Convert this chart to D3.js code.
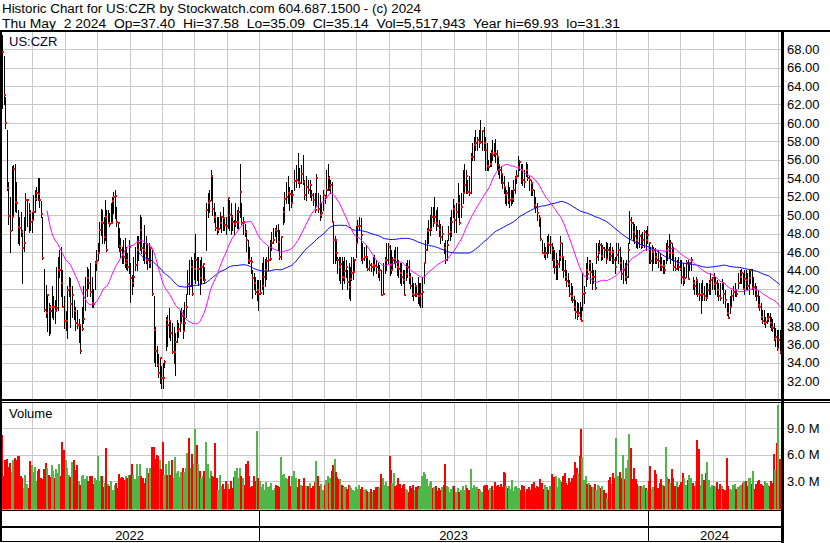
<!DOCTYPE html>
<html><head><meta charset="utf-8">
<script src="https://cdn.jsdelivr.net/npm/d3@7/dist/d3.min.js"></script>
<style>
html,body{margin:0;padding:0;background:#fff;}
svg{display:block;font-family:"Liberation Sans",Arial,Helvetica,sans-serif;}
</style></head><body>
<svg id="chart" width="830" height="543"></svg>
<script>
// ---------------- data ----------------
const headerLine1 = "Historic Chart for US:CZR by Stockwatch.com 604.687.1500 - (c) 2024";
const headerLine2 = "Thu May  2 2024  Op=37.40  Hi=37.58  Lo=35.09  Cl=35.14  Vol=5,517,943  Year hi=69.93  lo=31.31";
const symbol = "US:CZR";
const volumeTitle = "Volume";

// months shown (May 2022 .. May 2024), trading days per month, bars drawn per month
const months = ["2022-05","2022-06","2022-07","2022-08","2022-09","2022-10","2022-11","2022-12",
  "2023-01","2023-02","2023-03","2023-04","2023-05","2023-06","2023-07","2023-08","2023-09","2023-10","2023-11","2023-12",
  "2024-01","2024-02","2024-03","2024-04","2024-05"];
const tradingDays  = [21,21,20,23,21,21,21,21, 20,19,23,19,22,21,20,23,20,22,21,20, 21,20,20,22,22];
const barsPerMonth = [20,21,20,23,21,21,21,21, 20,19,23,19,22,21,20,23,20,22,21,20, 21,20,20,22,2];
const years = ["2022","2023","2024"];

const priceTicks = [32,34,36,38,40,42,44,46,48,50,52,54,56,58,60,62,64,66,68];
const volumeTicks = [3,6,9];          // millions
const prevClose = 69.6;                // close before first bar shown

const highs = [
 69.5,67.3,62.8,59.2,53.6,52.0,55.3,55.4,55.5,53.6,50.6,49.8,50.4,48.4,49.8,52.4,51.6,51.3,50.6,50.4,
 52.2,52.7,53.1,54.0,54.0,51.5,49.8,44.2,42.4,41.5,40.5,40.3,42.3,41.2,40.8,44.4,45.5,46.2,46.6,44.1,41.2,
 39.6,42.3,43.3,43.2,42.3,40.8,40.0,39.7,38.7,38.2,40.0,42.3,43.3,44.4,44.2,44.8,43.3,42.0,45.0,46.2,
 47.0,49.3,50.7,50.6,49.8,51.6,50.6,50.6,50.2,51.3,52.0,52.5,52.7,50.9,49.3,48.6,47.5,46.6,47.3,47.5,46.6,45.9,47.3,
 44.8,43.5,45.5,46.6,47.7,47.7,50.0,49.8,47.0,48.9,47.7,47.0,47.0,46.6,46.2,41.2,37.9,35.8,34.9,34.6,33.6,
 34.0,34.3,39.0,39.2,39.9,38.6,38.3,37.9,37.2,38.6,38.3,39.6,39.9,39.7,40.6,41.5,44.1,45.1,45.5,45.1,45.9,
 48.0,45.5,45.5,45.1,45.5,44.8,44.4,51.3,52.4,52.7,54.9,54.2,51.3,50.4,49.8,49.8,50.4,49.8,50.9,49.8,49.8,
 52.0,51.6,51.3,50.0,49.5,51.3,50.6,50.9,55.5,51.3,49.8,49.1,48.4,47.3,46.6,45.5,44.1,43.7,43.3,43.0,43.0,
 43.0,44.8,45.5,45.3,45.5,46.6,47.3,48.2,48.6,48.6,48.9,49.1,48.4,47.7,50.9,52.5,53.6,54.2,53.1,52.7,
 52.7,54.9,55.4,56.7,55.1,55.4,56.5,53.8,54.2,53.8,53.8,52.7,52.4,52.4,54.5,52.4,52.2,51.3,52.7,
 52.2,54.9,55.6,54.2,53.8,53.6,49.3,47.7,47.3,45.5,45.5,45.5,45.5,45.0,45.5,45.1,44.1,44.8,44.4,45.5,45.5,45.3,48.8,
 49.5,49.8,49.7,47.0,46.6,46.8,45.5,45.1,44.8,45.5,45.7,45.1,44.8,44.6,44.1,44.8,45.5,47.0,47.0,
 46.8,46.2,45.5,46.2,46.6,46.6,45.1,44.8,44.8,44.1,44.1,44.8,45.1,45.1,43.7,43.3,42.6,42.6,42.3,43.3,42.6,42.6,
 43.3,44.8,47.3,48.6,49.5,50.0,50.9,50.9,52.0,50.6,50.9,49.5,49.1,48.8,47.0,47.3,47.3,48.8,49.8,50.6,51.8,
 51.1,51.3,53.5,52.2,52.4,54.9,55.6,54.9,53.8,54.2,56.7,57.8,58.5,59.2,58.5,59.2,60.3,59.2,59.6,58.5,
 57.8,56.0,56.7,57.1,58.1,57.8,58.3,57.1,56.4,55.6,55.3,54.5,54.2,53.1,52.7,53.6,53.1,52.7,52.7,53.8,54.2,54.9,56.4,
 56.0,55.6,55.6,54.9,55.8,55.6,54.2,53.8,53.5,52.7,52.0,51.3,50.0,49.8,47.3,47.0,46.6,47.7,48.0,47.7,
 47.0,46.6,46.2,45.9,45.1,46.2,47.7,47.0,45.5,45.1,44.1,43.7,43.0,42.6,42.3,41.2,40.8,40.6,40.5,40.6,40.0,43.7,
 42.3,44.8,45.5,45.1,45.1,44.8,44.1,44.1,47.0,47.0,47.3,47.0,46.8,46.6,47.1,47.0,46.6,47.0,46.6,46.2,45.5,
 47.0,47.0,46.6,45.5,45.1,44.8,45.1,47.0,50.5,49.8,49.3,49.1,48.8,48.4,48.4,48.0,48.2,48.4,48.4,48.8,
 47.1,46.6,46.8,46.6,46.4,45.9,46.2,45.9,45.5,45.1,45.1,47.0,47.3,48.0,47.3,47.0,46.6,45.5,45.1,45.5,45.1,
 45.1,44.8,44.4,45.1,45.1,44.8,45.5,43.3,43.0,43.3,43.0,42.6,42.6,43.0,42.3,42.6,42.6,43.0,43.7,43.3,
 43.7,43.3,43.0,42.6,42.6,43.1,42.6,41.9,40.5,40.5,41.2,41.9,42.3,42.6,41.9,43.7,44.1,44.2,43.7,44.1,
 44.1,43.7,44.1,44.2,44.2,43.3,42.6,42.3,41.9,41.2,40.5,39.7,39.7,39.0,39.4,39.4,39.4,39.0,38.7,38.3,37.8,37.6,
 37.6,37.58];

const lows = [
 61.6,62.0,59.4,52.7,49.1,46.0,48.4,50.0,50.5,50.3,47.0,46.8,47.7,42.6,46.1,48.4,48.8,48.2,48.4,48.2,
 49.7,50.4,51.6,51.6,50.9,49.8,45.2,39.6,39.0,37.4,37.0,37.2,39.0,38.7,38.3,39.7,39.7,43.3,41.2,40.0,37.8,
 37.6,36.7,41.2,37.9,39.0,38.7,37.6,37.8,36.3,35.1,37.6,38.3,39.7,41.2,42.1,41.2,40.0,40.0,42.0,44.1,
 45.1,46.1,47.9,47.0,47.0,47.3,46.1,49.2,48.8,49.2,49.3,50.2,49.7,48.8,46.6,46.1,45.5,44.8,44.8,44.4,44.2,44.1,43.7,
 40.6,41.5,42.3,44.1,44.1,45.1,46.2,45.9,45.1,44.8,44.8,44.2,44.4,44.4,41.4,34.1,33.6,33.6,32.5,31.8,31.3,
 31.3,33.5,35.4,35.8,36.8,36.5,35.1,34.0,32.7,36.3,36.8,37.4,38.5,36.7,37.6,39.0,41.5,41.5,42.3,41.4,43.1,
 42.6,43.0,42.4,41.5,42.6,43.0,42.6,46.2,49.8,50.4,51.6,50.0,49.3,48.4,48.0,48.2,48.6,48.2,48.4,48.4,48.0,
 48.6,48.4,48.0,48.4,48.0,48.8,48.6,48.6,49.8,49.0,48.0,47.7,46.1,44.8,44.8,43.7,41.0,42.0,41.5,40.8,39.7,
 41.5,42.0,41.5,42.3,43.1,44.1,45.1,46.2,47.0,47.7,47.1,46.2,45.3,45.3,49.1,49.3,51.3,51.3,50.6,50.9,
 51.3,52.7,53.1,53.5,53.1,53.5,53.4,51.8,51.6,52.4,52.0,51.6,51.1,50.4,51.1,50.4,49.5,49.8,50.6,
 51.3,52.0,52.7,52.7,52.4,49.3,44.8,44.8,45.1,43.7,43.0,42.6,42.0,43.0,42.6,43.3,42.0,41.0,40.8,43.0,43.1,44.1,45.5,
 47.0,48.4,45.1,44.8,45.1,44.4,44.1,44.1,43.9,43.5,44.1,43.7,43.3,43.0,41.4,41.5,43.7,44.1,44.8,
 43.5,43.7,44.1,44.8,44.4,43.5,43.3,42.6,42.4,42.6,41.4,43.0,43.3,42.6,42.1,41.2,40.8,41.2,41.2,40.5,40.3,40.0,
 40.0,42.6,44.8,46.2,47.0,47.9,48.4,48.8,49.2,48.4,48.8,47.7,47.0,47.3,45.9,44.8,45.1,47.3,47.3,47.7,49.8,
 48.2,48.2,49.8,49.0,49.8,51.3,52.4,52.4,52.4,52.2,52.4,56.0,56.0,57.1,57.1,57.4,57.8,57.1,57.1,54.9,
 54.9,54.9,55.3,55.3,56.0,56.4,55.8,54.9,54.5,54.0,53.5,52.9,52.4,51.3,51.1,51.3,50.9,51.1,51.3,51.5,52.4,53.5,54.2,
 54.9,53.5,53.3,53.1,54.2,53.8,52.7,52.2,52.2,50.9,50.4,49.5,48.8,47.3,45.9,45.5,45.3,45.5,45.9,45.9,
 45.1,44.4,43.7,43.1,43.1,44.4,45.1,44.1,43.3,43.0,42.3,42.3,41.2,40.8,40.6,39.7,38.9,38.7,39.1,38.7,38.5,39.7,
 40.5,42.3,43.1,44.1,42.6,42.0,42.6,42.0,44.8,45.1,45.9,45.1,45.3,45.5,44.8,45.5,45.1,45.1,44.8,44.8,43.7,
 45.1,44.8,44.1,43.1,42.6,43.0,42.6,43.3,47.0,47.5,47.3,47.0,46.6,46.4,46.6,46.4,46.6,46.6,46.2,47.0,
 44.8,44.8,44.1,44.8,44.8,44.8,44.4,44.1,44.1,43.7,43.7,44.8,45.1,45.5,44.8,45.1,44.1,44.1,44.2,44.1,44.1,
 42.6,42.4,42.6,43.3,43.1,44.1,44.1,42.0,41.5,41.5,41.2,40.8,39.4,40.8,40.8,40.8,41.2,41.5,41.5,42.0,
 42.0,41.5,41.2,40.8,40.8,42.0,40.5,40.0,39.2,38.9,39.4,40.0,40.8,41.2,41.2,42.1,42.6,42.6,42.0,41.5,
 42.0,42.0,41.5,42.6,42.0,41.5,41.2,40.8,40.0,39.7,38.7,38.3,38.2,37.9,38.3,38.5,37.9,37.6,37.4,36.5,35.8,35.4,
 35.6,35.09];

const closes = [
 67.7,63.0,60.0,53.0,49.9,48.3,49.8,55.0,51.4,51.3,48.7,48.6,48.2,46.4,47.0,51.6,51.6,50.2,49.3,49.5,
 50.4,51.8,52.4,52.3,51.6,50.1,45.4,39.7,39.4,41.4,40.0,39.6,40.0,40.0,39.6,39.9,44.1,44.1,42.6,40.1,38.5,
 38.5,41.9,42.1,40.4,41.4,39.6,38.3,38.1,38.1,35.3,37.7,38.7,41.9,43.2,42.6,41.7,40.5,40.4,44.8,45.0,
 45.9,48.4,49.3,49.2,47.6,49.8,46.2,49.2,49.1,49.2,51.5,52.0,52.1,49.3,49.2,46.7,46.2,45.7,45.5,44.8,45.1,44.4,46.5,
 43.2,42.6,43.3,44.6,46.2,47.0,48.4,46.4,46.2,45.9,45.1,45.1,44.8,46.4,41.5,37.6,35.3,33.8,32.9,34.5,32.4,
 32.3,34.1,38.6,38.1,38.5,37.2,35.2,35.2,36.3,37.4,37.7,38.3,39.1,37.4,38.3,40.0,42.5,42.3,44.4,41.5,44.2,
 45.1,44.2,44.2,43.2,44.4,44.7,43.0,50.6,51.3,51.5,54.3,50.7,49.8,48.6,48.4,48.5,49.2,49.8,49.7,48.9,48.8,
 51.9,50.0,49.8,49.3,49.1,49.3,49.3,50.3,52.5,49.2,49.3,48.2,47.3,45.1,45.0,44.9,43.2,42.6,41.7,41.9,41.5,
 41.6,42.3,43.3,44.1,45.0,45.1,45.3,47.0,47.3,48.4,48.3,47.1,45.5,47.6,50.4,51.8,52.0,52.4,52.3,51.3,
 52.2,53.7,53.8,53.6,53.5,54.5,53.6,52.2,53.1,52.7,53.3,52.2,51.7,50.6,54.0,50.7,50.0,50.2,52.2,
 52.0,52.7,54.0,53.0,53.3,49.3,47.3,47.3,45.9,45.1,44.4,44.7,43.3,43.2,44.0,44.4,42.8,42.2,43.1,43.7,43.8,45.1,47.0,
 48.8,48.8,47.8,45.2,45.5,45.5,44.2,44.6,44.4,44.6,44.5,44.4,43.8,44.1,41.4,41.5,45.1,45.1,46.6,
 44.6,44.1,45.1,45.2,44.9,44.4,44.2,43.7,43.3,43.0,41.4,43.6,44.4,43.3,42.3,41.5,41.4,42.3,41.5,41.2,41.2,41.5,
 41.7,44.8,46.2,48.3,48.4,48.5,49.8,49.2,49.8,49.2,48.8,48.4,47.6,48.0,46.4,45.1,46.8,48.0,48.2,49.3,50.7,
 49.5,50.4,51.3,49.2,50.9,52.4,53.3,54.2,52.5,52.4,56.3,56.3,57.6,57.8,58.1,57.8,57.9,59.1,57.8,57.1,
 55.3,55.2,55.6,56.7,56.5,56.7,56.6,56.3,55.4,54.9,54.5,53.5,53.1,52.2,52.4,51.6,51.6,51.8,51.8,52.7,54.0,54.2,55.2,
 55.8,54.9,53.8,53.6,54.9,54.0,53.8,53.5,52.7,51.1,50.9,50.2,49.7,47.4,45.9,45.8,45.9,47.0,46.8,46.8,
 46.2,45.1,44.4,44.7,44.7,45.5,47.0,45.5,43.9,43.3,42.9,42.5,41.5,41.2,40.8,40.0,39.5,39.2,39.4,38.9,38.5,41.5,
 41.6,44.1,43.6,44.8,43.8,43.3,43.3,42.1,45.5,46.0,46.8,45.6,46.4,46.2,45.3,46.2,46.0,45.6,46.0,45.1,44.4,
 45.7,46.2,44.8,43.6,44.1,43.3,43.3,46.2,49.5,49.2,48.2,47.7,47.3,47.0,47.7,46.7,47.3,48.2,47.3,47.8,
 47.0,45.0,46.0,46.2,45.5,45.1,45.0,44.6,44.4,44.5,44.1,46.2,46.6,45.9,47.0,45.9,44.4,44.2,44.8,44.4,44.2,
 43.3,43.0,43.2,44.8,43.1,44.8,45.1,42.6,42.3,43.0,41.5,41.4,41.5,41.5,41.2,41.0,41.9,42.6,43.0,43.2,
 42.5,42.6,41.9,41.2,41.0,42.6,41.5,40.8,39.4,38.9,40.0,41.2,41.7,41.9,41.5,42.6,43.3,43.7,42.0,43.1,
 43.0,42.3,43.2,44.1,42.1,42.2,41.9,41.2,40.3,40.0,39.0,38.5,38.3,38.4,38.7,39.0,38.3,37.9,37.8,36.6,36.8,35.6,
 36.5,35.14];

const volumes = [ // millions of shares
 8.2,3.6,5.4,5.5,4.6,5.1,4.0,5.4,5.6,5.4,5.9,5.8,3.6,3.3,2.2,3.7,2.7,2.2,5.3,4.8,
 4.0,4.6,3.0,4.1,4.4,3.3,3.2,4.4,5.1,4.5,3.7,3.5,4.8,4.1,3.4,4.4,3.9,4.9,3.6,7.5,6.5,
 5.4,4.5,3.7,3.5,5.2,5.4,4.3,4.8,3.0,2.6,3.6,3.7,3.2,3.6,3.0,3.6,3.6,2.7,3.4,3.1,
 5.9,3.0,3.6,3.6,2.3,2.8,6.8,2.7,2.4,3.0,1.8,2.0,2.6,2.8,2.2,3.8,3.3,3.5,3.4,3.1,3.6,3.3,3.7,
 3.7,4.9,3.7,3.2,5.0,3.6,4.9,3.6,3.3,2.8,3.4,4.5,3.9,4.5,6.9,6.9,5.5,6.0,5.9,5.4,4.4,
 7.4,3.7,4.9,3.7,5.3,3.7,5.4,3.4,5.7,3.9,4.2,3.5,4.0,4.5,4.0,4.5,6.2,7.9,4.5,6.1,5.0,
 8.9,7.1,5.0,4.2,3.4,3.6,4.1,7.4,5.0,3.4,4.2,3.6,3.5,7.3,3.4,2.0,3.7,2.4,2.7,2.1,3.0,
 2.7,2.1,3.0,2.2,3.5,4.1,4.5,3.3,4.5,3.6,3.3,2.6,5.0,5.3,3.6,2.3,2.4,3.6,3.0,8.7,3.3,
 3.0,2.3,2.7,2.0,2.9,2.3,2.5,2.8,2.0,2.2,2.6,2.4,2.3,5.7,3.7,3.8,3.4,3.2,3.6,2.5,
 3.6,4.2,3.4,2.3,3.2,2.6,2.5,3.3,2.4,2.5,2.8,2.2,2.4,2.9,5.3,3.6,2.4,2.7,2.0,
 2.6,3.1,3.6,2.8,3.4,4.2,4.8,5.5,4.0,3.5,3.2,3.2,2.6,2.5,2.3,2.3,2.1,2.6,2.4,2.2,2.0,1.9,2.3,
 2.1,2.6,2.1,2.3,2.0,2.1,1.9,1.8,2.1,1.8,2.0,2.3,2.3,2.2,3.8,3.3,2.6,2.9,2.4,
 5.9,4.3,2.8,3.9,2.5,2.6,3.3,2.7,2.2,2.6,2.7,2.1,2.0,1.8,2.4,2.2,2.6,2.0,2.3,2.5,2.1,2.4,
 3.6,4.0,3.8,3.2,2.4,2.8,3.0,2.2,2.3,2.4,1.9,2.2,2.0,2.3,2.6,5.0,2.4,2.3,1.8,2.1,2.5,
 2.5,1.8,2.2,1.8,2.0,2.4,2.0,2.6,2.2,2.0,4.4,2.2,2.6,2.3,2.3,2.1,2.0,1.8,2.4,2.6,
 2.6,2.0,2.2,2.2,2.5,2.0,2.9,2.4,2.6,2.3,2.7,2.3,4.0,3.9,2.5,2.2,2.4,2.1,3.1,1.9,2.3,2.5,2.2,
 2.2,2.0,2.6,2.4,1.8,2.1,2.3,2.0,2.7,2.9,2.2,2.5,2.3,3.2,2.8,2.1,2.6,2.3,2.0,2.5,
 3.8,3.0,3.5,3.6,2.3,3.4,3.1,2.9,3.6,3.9,2.8,2.6,3.3,2.9,3.4,3.7,5.2,4.5,3.9,5.8,8.9,5.7,
 3.1,3.6,2.7,2.8,2.6,2.3,2.3,2.7,2.0,2.6,2.4,2.2,2.5,2.0,1.6,1.1,3.1,3.5,2.7,3.9,3.3,
 7.9,3.6,4.0,3.4,6.0,3.2,4.5,5.4,8.3,6.8,3.2,4.5,3.2,2.7,2.5,2.4,2.3,2.6,2.2,2.0,
 3.0,4.7,2.1,2.3,4.3,3.8,2.2,2.8,3.2,2.6,2.4,6.9,3.5,3.2,2.8,4.4,3.3,2.5,2.9,2.3,2.6,
 2.9,3.9,3.3,2.6,3.1,3.7,3.3,2.8,2.5,3.0,7.7,6.6,2.6,3.8,3.1,3.9,5.2,3.1,2.3,2.6,
 2.5,2.3,2.9,2.1,2.7,2.4,2.1,2.0,5.6,2.4,2.1,2.0,2.6,2.7,2.1,2.3,2.4,2.6,2.8,3.0,
 3.0,2.4,3.3,3.4,2.7,4.2,2.1,2.7,3.0,3.1,2.7,2.6,2.4,3.0,2.8,2.6,2.4,3.0,2.8,6.1,4.3,7.3,
 11.6,5.52];

// ---------------- checks ----------------
const N = d3.sum(barsPerMonth);
if ([highs, lows, closes, volumes].some(a => a.length !== N))
  throw new Error("length mismatch N=" + N + " h=" + highs.length + " l=" + lows.length + " c=" + closes.length + " v=" + volumes.length);

// ---------------- layout ----------------
const svg = d3.select("#chart");
const plotRight = 781;
const priceTop = 31, priceBottom = 399.5;
const volTop = 403, volBottom = 509.5;
const gridColor = "#c8c8c8";
const upColor = "#4db848", downColor = "#ff0000";

const x = d3.scaleLinear().domain([0, months.length]).range([0, 32.4 * months.length]);
const y = d3.scaleLinear().domain([30, 70]).range([399.7, 30.7]);
const yv = d3.scaleLinear().domain([0, 9]).range([507.5, 428.3]);

// bars
const bars = [];
let k = 0;
barsPerMonth.forEach((n, m) => {
  const off = m === 0 ? tradingDays[0] - n : 0;
  for (let j = 0; j < n; j++, k++) {
    const prev = k === 0 ? prevClose : closes[k - 1];
    bars.push({ i: k, pos: m + (off + j + 0.5) / tradingDays[m],
      h: highs[k], l: lows[k], c: closes[k], v: volumes[k], up: closes[k] >= prev });
  }
});
const px = d => Math.round(x(d.pos));

// clip paths
const defs = svg.append("defs");
defs.append("clipPath").attr("id", "clipP").append("rect")
  .attr("x", 0).attr("y", priceTop).attr("width", plotRight).attr("height", priceBottom - priceTop);
defs.append("clipPath").attr("id", "clipV").append("rect")
  .attr("x", 0).attr("y", volTop).attr("width", plotRight).attr("height", volBottom - volTop);

// grid
const grid = svg.append("g").attr("stroke", gridColor).attr("stroke-width", 1).attr("shape-rendering", "crispEdges");
const monthLines = d3.range(1, months.length).map(m => Math.round(x(m)) + 0.5).filter(v => v < plotRight);
grid.selectAll(".vg1").data(monthLines).join("line")
  .attr("x1", d => d).attr("x2", d => d).attr("y1", priceTop).attr("y2", priceBottom);
grid.selectAll(".vg2").data(monthLines).join("line")
  .attr("x1", d => d).attr("x2", d => d).attr("y1", volTop).attr("y2", volBottom);
grid.selectAll(".hg1").data(priceTicks).join("line")
  .attr("x1", 0).attr("x2", plotRight).attr("y1", d => Math.round(y(d)) + 0.5).attr("y2", d => Math.round(y(d)) + 0.5);
grid.selectAll(".hg2").data(volumeTicks).join("line")
  .attr("x1", 0).attr("x2", plotRight).attr("y1", d => Math.round(yv(d)) + 0.5).attr("y2", d => Math.round(yv(d)) + 0.5);

// volume bars
svg.append("g").attr("clip-path", "url(#clipV)").attr("shape-rendering", "crispEdges")
  .selectAll("rect").data(bars).join("rect")
  .attr("x", d => px(d) - 1).attr("width", 2)
  .attr("y", d => yv(d.v)).attr("height", d => volBottom + 1 - yv(d.v))
  .attr("fill", d => d.up ? upColor : downColor);

// price bars
const pg = svg.append("g").attr("clip-path", "url(#clipP)");
pg.append("g").attr("stroke", "#000").attr("stroke-width", 1).attr("shape-rendering", "crispEdges")
  .selectAll("line").data(bars).join("line")
  .attr("x1", d => px(d) + 0.5).attr("x2", d => px(d) + 0.5)
  .attr("y1", d => Math.round(y(Math.max(d.h, d.c)))).attr("y2", d => Math.round(y(Math.min(d.l, d.c))) + 1);
pg.append("g").attr("fill", "#ff0000").attr("shape-rendering", "crispEdges")
  .selectAll("rect").data(bars).join("rect")
  .attr("x", d => px(d)).attr("width", 2)
  .attr("y", d => Math.round(y(d.c)) - 1).attr("height", 2);

// moving averages (30 and 90 day)
function sma(n) { return bars.map((d, i) => i < n - 1 ? null : { pos: d.pos, v: d3.mean(closes.slice(i - n + 1, i + 1)) }); }
const maLine = d3.line().defined(d => d).x(d => x(d.pos)).y(d => y(d.v));
pg.append("path").attr("d", maLine(sma(90))).attr("fill", "none").attr("stroke", "#0000ff").attr("stroke-width", 1);
pg.append("path").attr("d", maLine(sma(30))).attr("fill", "none").attr("stroke", "#ff00ff").attr("stroke-width", 1);

// frame
const frame = svg.append("g").attr("fill", "#000").attr("shape-rendering", "crispEdges");
frame.append("rect").attr("x", 0).attr("y", 30).attr("width", 830).attr("height", 2);       // top
frame.append("rect").attr("x", 0).attr("y", 399).attr("width", 830).attr("height", 1.5);     // price bottom
frame.append("rect").attr("x", 0).attr("y", 401.8).attr("width", 830).attr("height", 1.5);   // volume top
frame.append("rect").attr("x", 0).attr("y", 509.5).attr("width", 783).attr("height", 1.5);  // volume bottom
frame.append("rect").attr("x", 0).attr("y", 526).attr("width", 783).attr("height", 1.5);
frame.append("rect").attr("x", 0).attr("y", 540.8).attr("width", 783).attr("height", 1.5);
frame.append("rect").attr("x", 0).attr("y", 31).attr("width", 2).attr("height", 511);     // left
frame.append("rect").attr("x", 781).attr("y", 31).attr("width", 3).attr("height", 512);   // right axis

// year separators and labels
const yearStarts = years.map(yr => months.findIndex(m => m.startsWith(yr)));
yearStarts.slice(1).forEach(m => {
  frame.append("rect").attr("x", Math.round(x(m))).attr("y", 510).attr("width", 1).attr("height", 31);
});
const txt = svg.append("g").attr("fill", "#000").attr("font-size", 13);
years.forEach((yr, i) => {
  const a = Math.max(x(yearStarts[i]), 0);
  const b = Math.min(i + 1 < years.length ? x(yearStarts[i + 1]) : plotRight, plotRight);
  txt.append("text").attr("x", (a + b) / 2).attr("y", 539.5).attr("text-anchor", "middle").text(yr);
});

// axis labels
txt.selectAll(".pl").data(priceTicks).join("text")
  .attr("x", 787).attr("y", d => y(d) + 4.6).text(d => d.toFixed(2));
txt.selectAll(".vl").data(volumeTicks).join("text")
  .attr("x", 787).attr("y", d => yv(d) + 4.6).text(d => d.toFixed(1) + " M");

// titles
svg.append("text").attr("x", 9).attr("y", 46).attr("font-size", 13).attr("fill", "#000033").text(symbol);
svg.append("text").attr("x", 9).attr("y", 418).attr("font-size", 13).attr("fill", "#000").text(volumeTitle);

const h1 = svg.append("text").attr("x", 2).attr("y", 13.3).attr("font-size", 12.5).attr("fill", "#000")
  .style("white-space", "pre").text(headerLine1);
const h2 = svg.append("text").attr("x", 2).attr("y", 27.7).attr("font-size", 12.5).attr("fill", "#000")
  .style("white-space", "pre").text(headerLine2);
h1.attr("textLength", 419).attr("lengthAdjust", "spacingAndGlyphs");
h2.attr("textLength", 618).attr("lengthAdjust", "spacingAndGlyphs");
</script>
</body></html>
